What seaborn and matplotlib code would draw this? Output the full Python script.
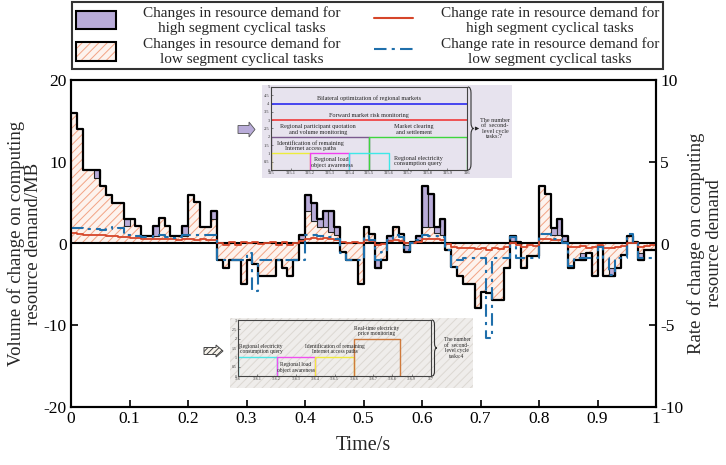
import matplotlib
matplotlib.use("Agg")
import matplotlib.pyplot as plt
import numpy as np
import seaborn as sns
from matplotlib.legend_handler import HandlerTuple
from matplotlib.lines import Line2D
from matplotlib.patches import FancyArrowPatch, Patch, PathPatch, Polygon, Rectangle
from matplotlib.path import Path

W, H = 726, 465

# one value per 0.01 s bin
bin_width = 0.01
total_demand = [
    16.0, 14.0, 9.0, 9.0, 9.0, 7.0, 5.9, 4.9, 4.9, 3.0,
    3.0, 2.1, 0.9, 0.9, 2.1, 3.1, 2.1, 0.9, 0.9, 2.1,
    5.9, 5.1, 2.0, 2.0, 4.0, -2.0, -3.0, -2.0, -2.0, -5.0,
    -2.0, -2.5, -4.0, -4.0, -4.0, -2.0, -3.0, -4.0, -2.0, 1.0,
    5.9, 5.0, 3.0, 4.0, 4.0, 2.0, -1.0, -2.0, -2.0, -5.0,
    2.0, 1.2, -3.0, -2.0, 0.9, 2.0, 1.2, -1.0, 0.2, 0.9,
    7.0, 6.0, 2.0, 3.0, -0.8, -2.9, -4.0, -5.0, -5.0, -7.9,
    -5.9, -6.0, -6.9, -6.9, -3.0, 0.9, 0.2, -3.0, -1.5, -1.5,
    7.0, 6.0, 1.9, 3.0, 0.9, -3.0, -2.0, -2.0, -1.2, -4.0,
    -0.3, -4.0, -4.0, -3.0, -1.4, 0.9, 0.2, -2.0, -0.8, -0.8,
]
low_demand = [
    16.0, 14.0, 9.0, 9.0, 8.0, 7.0, 5.9, 4.9, 4.9, 2.1,
    3.0, 2.1, 0.9, 0.9, 0.9, 3.1, 2.1, 0.9, 0.9, 0.9,
    5.9, 5.1, 2.0, 2.0, 3.0, -2.0, -3.0, -2.0, -2.0, -5.0,
    -2.0, -2.5, -4.0, -4.0, -4.0, -2.0, -3.0, -4.0, -2.0, 0.5,
    4.0, 2.8, 2.0, 2.0, 1.4, 1.0, -1.0, -2.0, -2.0, -5.0,
    2.0, 1.2, -2.0, -2.0, 0.4, 2.0, 1.2, -0.2, 0.2, 0.4,
    2.0, 2.0, 1.3, 1.0, -0.8, -2.9, -4.0, -5.0, -5.0, -7.9,
    -5.9, -6.0, -6.9, -6.9, -3.0, 0.3, 0.2, -3.0, -1.5, -1.5,
    7.0, 6.0, 1.0, 1.1, 0.3, -3.0, -2.0, -1.2, -1.2, -4.0,
    -0.3, -4.0, -3.0, -3.0, -1.4, 0.9, 0.2, -1.2, -0.8, -0.8,
]
high_rate = [
    0.62, 0.6, 0.55, 0.55, 0.5, 0.5, 0.45, 0.45, 0.4, 0.4,
    0.35, 0.35, 0.3, 0.3, 0.3, 0.25, 0.3, 0.25, 0.2, 0.25,
    0.25, 0.2, 0.25, 0.2, 0.2, 0.05, -0.1, 0.1, -0.1, 0.1,
    0.0, 0.1, -0.05, 0.05, 0.1, -0.1, 0.1, -0.1, 0.0, 0.15,
    0.3, 0.35, 0.3, 0.35, 0.25, 0.2, 0.1, 0.05, 0.1, 0.0,
    0.2, 0.15, -0.1, -0.05, 0.15, 0.2, 0.15, 0.0, 0.05, 0.1,
    0.3, 0.3, 0.25, 0.2, -0.05, -0.2, -0.25, -0.3, -0.25, -0.35,
    -0.3, -0.4, -0.3, -0.35, -0.2, 0.0, -0.1, -0.2, -0.1, -0.15,
    0.3, 0.3, 0.2, 0.2, 0.05, -0.2, -0.2, -0.15, -0.25, -0.2,
    -0.1, -0.25, -0.3, -0.2, -0.15, 0.05, 0.0, -0.2, -0.15, -0.1,
]
low_rate = [
    0.95, 0.95, 0.9, 0.9, 0.9, 0.85, 0.9, 1.0, 0.95, 0.5,
    0.5, 0.45, 0.4, 0.4, 0.45, 0.5, 0.4, 0.35, 0.4, 0.5,
    0.55, 0.55, 0.5, 0.5, 0.55, -1.0, -1.0, -1.0, -1.0, -1.0,
    -0.6, -2.9, -1.0, -1.0, -1.0, -1.0, -1.0, -1.0, -1.0, -1.0,
    0.55, 0.55, 0.45, 0.45, 0.4, 0.3, -0.6, -1.0, -1.0, -1.0,
    0.45, 0.2, -1.0, -0.5, 0.2, 0.5, 0.4, -0.4, 0.0, 0.2,
    0.5, 0.45, 0.45, 0.4, -0.4, -1.5, -1.0, -0.9, -0.9, -0.9,
    -0.9, -5.8, -0.9, -0.9, -0.9, 0.4, -0.9, -0.9, -0.9, -0.9,
    0.6, 0.6, 0.3, 0.3, 0.0, -1.4, -0.9, -0.9, -0.9, -0.9,
    -0.2, -0.9, -1.9, -0.9, -0.9, 0.6, 0.0, -0.9, -0.9, -0.9,
]

x_ticks = [0, 0.1, 0.2, 0.3, 0.4, 0.5, 0.6, 0.7, 0.8, 0.9, 1.0]
x_tick_labels = ["0", "0.1", "0.2", "0.3", "0.4", "0.5", "0.6", "0.7", "0.8", "0.9", "1"]
left_ticks = [-20, -10, 0, 10, 20]
right_ticks = [-10, -5, 0, 5, 10]

legend_labels = [
    "Changes in resource demand for\nhigh segment cyclical tasks",
    "Changes in resource demand for\nlow segment cyclical tasks",
    "Change rate in resource demand for\nhigh segment cyclical tasks",
    "Change rate in resource demand for\nlow segment cyclical tasks",
]

# task schedules shown in the two small panels
upper_tasks = [
    "Bilateral optimization of regional markets",
    "Forward market risk monitoring",
    "Regional participant quotation\nand volume monitoring",
    "Market clearing\nand settlement",
    "Identification of remaining\nInternet access paths",
    "Regional load\nobject awareness",
    "Regional electricity\nconsumption query",
]
upper_start = [315.0, 315.0, 315.0, 315.5, 315.0, 315.2, 315.4]
upper_end = [316.0, 316.0, 315.5, 316.0, 315.2, 315.4, 315.6]
upper_level = [4, 3, 2, 2, 1, 1, 1]
upper_colors = ["#2b2bf0", "#f03a3a", "#7b5a8e", "#3ed63e", "#eded3a", "#f040f0", "#3ee8e8"]
upper_count = 7

lower_tasks = [
    "Regional electricity\nconsumption query",
    "Regional load\nobject awareness",
    "Identification of remaining\nInternet access paths",
    "Real-time electricity\nprice monitoring",
]
lower_start = [316.0, 316.2, 316.4, 316.6]
lower_end = [316.2, 316.4, 316.6, 316.84]
lower_level = [1, 1, 1, 2]
lower_colors = ["#4ee6e6", "#f050f0", "#f0ea40", "#cf7a3c"]
lower_count = 4

PURPLE = "#b9acd9"
HATCH_FACE = "#fdf3ee"
HATCH_LINE = "#f2a384"
RED = "#d6462a"
BLUE = "#1f6fab"


def fig_rect(x0, y0, x1, y1):
    return [x0 / W, 1 - y1 / H, (x1 - x0) / W, (y1 - y0) / H]


def fig_xy(x, y):
    return (x / W, 1 - y / H)


def add_brace(fig, x, top, bottom, w):
    mid = (top + bottom) / 2
    r = min(w, (bottom - top) / 6)
    c = x + w / 2
    pts = [(x, top), (c, top), (c, top + r), (c, mid - r), (c, mid), (x + w, mid),
           (x + w, mid), (c, mid), (c, mid + r), (c, bottom - r), (c, bottom), (x, bottom)]
    codes = [Path.MOVETO, Path.CURVE3, Path.CURVE3, Path.LINETO, Path.CURVE3, Path.CURVE3,
             Path.MOVETO, Path.CURVE3, Path.CURVE3, Path.LINETO, Path.CURVE3, Path.CURVE3]
    path = Path([fig_xy(*p) for p in pts], codes)
    fig.add_artist(PathPatch(path, transform=fig.transFigure, fill=False,
                             lw=0.8, edgecolor="#333333", zorder=10))


def add_block_arrow(fig, x0, x1, yc, shaft, head, head_len, **kw):
    xs = x1 - head_len
    pts = [(x0, yc - shaft / 2), (xs, yc - shaft / 2), (xs, yc - head / 2), (x1, yc),
           (xs, yc + head / 2), (xs, yc + shaft / 2), (x0, yc + shaft / 2)]
    fig.add_artist(Polygon([fig_xy(*p) for p in pts], closed=True,
                           transform=fig.transFigure, zorder=10, **kw))


def draw_schedule(fig, inner, tasks, starts, ends, levels, colors, label_xy,
                  xlim, ylim, xticks, xlabels, yticks, fs, face):
    ax = fig.add_axes(fig_rect(*inner), zorder=7)
    ax.set_facecolor(face)
    for s, e, lvl, col in zip(starts, ends, levels, colors):
        if lvl <= 2:
            ax.plot([s, s, e, e], [0, lvl, lvl, 0], color=col, lw=1.0)
        else:
            ax.plot([s, e], [lvl, lvl], color=col, lw=1.2)
    for name, (tx, ty) in zip(tasks, label_xy):
        ax.text(tx, ty, name, fontsize=fs, ha="center", va="center", color="#222222",
                linespacing=1.1)
    ax.set_xlim(*xlim)
    ax.set_ylim(*ylim)
    ax.set_xticks(xticks)
    ax.set_xticklabels(xlabels)
    ax.set_yticks(yticks)
    ax.set_yticklabels([f"{v:g}" for v in yticks])
    ax.tick_params(direction="in", length=1.5, width=0.4, labelsize=fs - 1.2, pad=1,
                   colors="#333333")
    for sp in ax.spines.values():
        sp.set_linewidth(0.8)
        sp.set_color("#444444")
    return ax


def main() -> None:
    sns.set_theme(style="ticks")
    plt.rcParams["font.family"] = ["Liberation Serif", "DejaVu Serif"]
    plt.rcParams["hatch.linewidth"] = 0.7
    plt.rcParams["axes.unicode_minus"] = False

    edges = np.round(np.arange(len(total_demand) + 1) * bin_width, 2)
    total_ext = total_demand + [total_demand[-1]]
    low_ext = low_demand + [low_demand[-1]]
    high_ext = high_rate + [high_rate[-1]]
    lowr_ext = low_rate + [low_rate[-1]]

    fig = plt.figure(figsize=(W / 100, H / 100), dpi=100)
    ax = fig.add_axes(fig_rect(71, 80, 656, 407))

    # low segment demand: hatched area from zero
    ax.fill_between(edges, low_ext, 0, step="post", facecolor=HATCH_FACE,
                    edgecolor=HATCH_LINE, hatch="////", linewidth=0, zorder=1)

    # high segment demand: purple boxes stacked on the low part
    tot = np.array(total_demand)
    low = np.array(low_demand)
    mask = np.abs(tot - low) > 1e-9
    ax.bar(edges[:-1][mask], (tot - low)[mask], bottom=low[mask], width=bin_width,
           align="edge", color=PURPLE, edgecolor="#222222", linewidth=0.8, zorder=2)

    sns.lineplot(x=edges, y=total_ext, ax=ax, drawstyle="steps-post", color="black",
                 lw=1.6, estimator=None, zorder=4)
    ax.axhline(0, color="black", lw=1.5, zorder=4)

    ax.set_xlim(0, 1)
    ax.set_ylim(-20, 20)
    ax.set_xticks(x_ticks)
    ax.set_xticklabels(x_tick_labels)
    ax.set_yticks(left_ticks)
    ax.set_xlabel("Time/s", fontsize=14.5, labelpad=6)
    ax.set_ylabel("Volume of change on computing\nresource demand/MB", fontsize=13.5,
                  labelpad=1, linespacing=1.05)
    ax.tick_params(direction="in", length=5, width=1.2, labelsize=12.5, pad=3,
                   colors="black")

    ax2 = ax.twinx()
    sns.lineplot(x=edges, y=high_ext, ax=ax2, drawstyle="steps-post", color=RED,
                 lw=1.3, estimator=None)
    sns.lineplot(x=edges, y=lowr_ext, ax=ax2, drawstyle="steps-post", color=BLUE,
                 lw=1.5, estimator=None, linestyle=(0, (6, 2.5, 1.5, 2.5)))
    ax2.set_ylim(-10, 10)
    ax2.set_yticks(right_ticks)
    ax2.set_ylabel("Rate of change on computing\nresource demand", fontsize=13.5,
                   labelpad=3, linespacing=1.05)
    ax2.tick_params(direction="in", length=5, width=1.2, labelsize=12.5, pad=3,
                    colors="black")
    for a in (ax, ax2):
        for sp in a.spines.values():
            sp.set_linewidth(1.5)
            sp.set_color("black")

    # upper small panel (7 tasks)
    bg1 = fig.add_axes(fig_rect(262, 85, 512, 178), zorder=6)
    bg1.set_facecolor("#e7e3ee")
    bg1.set_xticks([])
    bg1.set_yticks([])
    for sp in bg1.spines.values():
        sp.set_visible(False)
    up_ticks = [315 + k / 10 for k in range(11)]
    draw_schedule(
        fig, (271, 87, 467, 170), upper_tasks, upper_start, upper_end, upper_level,
        upper_colors,
        [(315.5, 4.3), (315.5, 3.3), (315.24, 2.45), (315.73, 2.45),
         (315.2, 1.45), (315.31, 0.45), (315.75, 0.55)],
        (315, 316), (0, 5), up_ticks,
        [f"{v:g}" for v in up_ticks[:-1]] + ["316"],
        [k / 2 for k in range(11)], 4.4, "#e7e3ee")
    add_brace(fig, 468, 87, 170, 6)
    fig.add_artist(FancyArrowPatch(
        fig_xy(474, 128.5), fig_xy(482, 128.5), transform=fig.transFigure,
        arrowstyle="-|>", mutation_scale=5, lw=0.7, color="#222222", zorder=10))
    fig.text(*fig_xy(495, 128.5), f"The number\nof  second-\nlevel cycle\ntasks:{upper_count}",
             fontsize=4.4, ha="center", va="center", zorder=11, linespacing=1.15)
    add_block_arrow(fig, 238, 255, 129.5, 8, 15, 6, facecolor=PURPLE,
                    edgecolor="#555555", lw=0.6)

    # lower small panel (4 tasks)
    bg2 = fig.add_axes(fig_rect(230, 318, 473, 388), zorder=6)
    bg2.set_facecolor("#efedeb")
    bg2.add_patch(Rectangle((0, 0), 1, 1, transform=bg2.transAxes, facecolor="#efedeb",
                            edgecolor="#dcd8d2", hatch="////", lw=0))
    bg2.set_xticks([])
    bg2.set_yticks([])
    for sp in bg2.spines.values():
        sp.set_visible(False)
    low_ticks = [316 + k / 10 for k in range(11)]
    draw_schedule(
        fig, (238, 320, 431, 376), lower_tasks, lower_start, lower_end, lower_level,
        lower_colors,
        [(316.12, 1.45), (316.3, 0.45), (316.5, 1.45), (316.72, 2.4)],
        (316, 317), (0, 3), low_ticks,
        [f"{v:g}" for v in low_ticks],
        [k / 2 for k in range(7)], 4.0, "none")
    add_brace(fig, 432, 320, 376, 5)
    fig.text(*fig_xy(457, 348), f"The number\nof  second-\nlevel cycle\ntasks:{lower_count}",
             fontsize=4.0, ha="center", va="center", zorder=11, linespacing=1.15)
    add_block_arrow(fig, 204, 223, 351, 7, 12, 7, facecolor="#f8f4ec",
                    edgecolor="#444444", lw=0.7, hatch="//////")

    # legend above the plot
    handles = [
        Patch(facecolor=PURPLE, edgecolor="black", lw=1.5),
        (Patch(facecolor=HATCH_FACE, edgecolor=HATCH_LINE, hatch="////", lw=0),
         Patch(facecolor="none", edgecolor="black", lw=1.5)),
        Line2D([], [], color=RED, lw=1.5),
        Line2D([], [], color=BLUE, lw=1.5, linestyle=(0, (6, 2.5, 1.5, 2.5))),
    ]
    leg = fig.legend(
        handles, legend_labels, loc="upper left",
        bbox_to_anchor=(72 / W, 1 - 73 / H, 591 / W, 71 / H), mode="expand", ncol=2,
        fontsize=11, frameon=True, fancybox=False, edgecolor="black",
        handlelength=2.6, handleheight=1.5, handletextpad=1.8, labelspacing=0.15,
        borderpad=0.25, borderaxespad=0, columnspacing=2.0,
        handler_map={tuple: HandlerTuple(ndivide=1, pad=0)},
    )
    leg.get_frame().set_linewidth(1.5)
    for t in leg.get_texts():
        t.set_multialignment("center")

    fig.savefig("out.png", dpi=100)
    plt.close(fig)


if __name__ == "__main__":
    main()
